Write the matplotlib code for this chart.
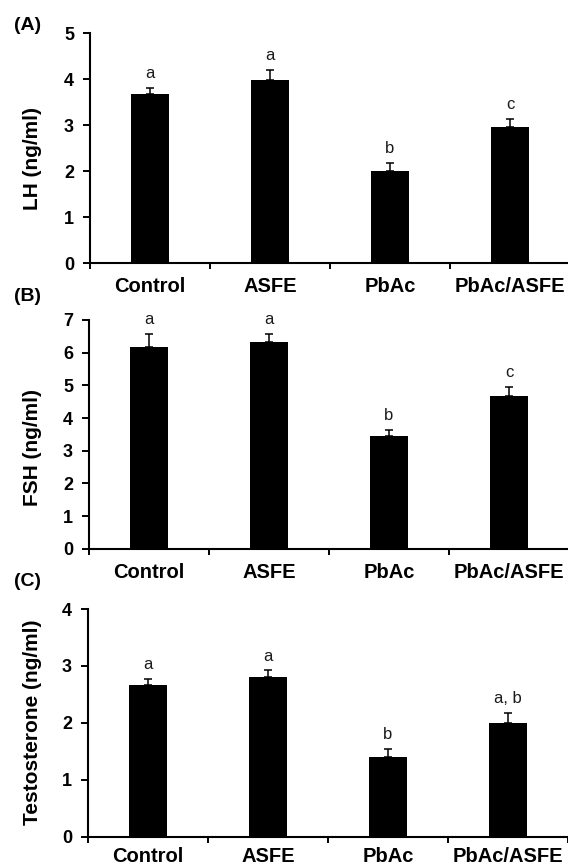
import matplotlib
matplotlib.use("Agg")
import matplotlib.pyplot as plt
import numpy as np

plt.rcParams['font.family'] = ['Liberation Sans', 'DejaVu Sans']

groups = ["Control", "ASFE", "PbAc", "PbAc/ASFE"]

lh_mean = [3.67, 3.97, 2.01, 2.95]
lh_se = [0.14, 0.23, 0.16, 0.19]
lh_sig = ["a", "a", "b", "c"]

fsh_mean = [6.16, 6.33, 3.46, 4.68]
fsh_se = [0.41, 0.24, 0.17, 0.27]
fsh_sig = ["a", "a", "b", "c"]

tst_mean = [2.67, 2.80, 1.40, 1.99]
tst_se = [0.10, 0.12, 0.14, 0.19]
tst_sig = ["a", "a", "b", "a, b"]

W, H = 568, 867
fig = plt.figure(figsize=(W / 100, H / 100), dpi=100)

panels = [
    dict(mean=lh_mean, se=lh_se, sig=lh_sig, ylabel="LH (ng/ml)", ymax=5, tag="(A)",
         left=90, top=33, bottom=263, tag_y=25, ylab_y=159, xpad=10),
    dict(mean=fsh_mean, se=fsh_se, sig=fsh_sig, ylabel="FSH (ng/ml)", ymax=7, tag="(B)",
         left=89, top=320, bottom=548.7, tag_y=297, ylab_y=447, xpad=10),
    dict(mean=tst_mean, se=tst_se, sig=tst_sig, ylabel="Testosterone (ng/ml)", ymax=4, tag="(C)",
         left=88, top=609, bottom=836.7, tag_y=582, ylab_y=722, xpad=7.5),
]

for p in panels:
    ax = fig.add_axes([p["left"] / W, 1 - p["bottom"] / H, 480 / W, (p["bottom"] - p["top"]) / H])
    x = np.arange(len(groups))
    mean = np.array(p["mean"])
    se = np.array(p["se"])
    ax.bar(x, mean, width=0.31, color="black", zorder=2)
    ax.errorbar(x, mean, yerr=[np.zeros_like(se), se], fmt="none", ecolor="black",
                elinewidth=1.1, capsize=3, capthick=1.1, zorder=3)
    for xi, m, s, lab in zip(x, mean, se, p["sig"]):
        ax.annotate(lab, (xi, m + s), xytext=(0, 5), textcoords="offset points",
                    ha="center", va="bottom", fontsize=12, color="#1a1a1a")
    ax.set_xlim(-0.5, 3.5)
    ax.set_ylim(0, p["ymax"])
    ax.set_yticks(np.arange(0, p["ymax"] + 1, 1))
    ax.tick_params(axis="y", direction="out", length=5, width=1.4, pad=6.5, labelsize=13)
    for t in ax.get_yticklabels():
        t.set_fontweight("bold")
    ax.set_xticks([-0.5, 0.5, 1.5, 2.5, 3.5])
    ax.set_xticklabels([])
    ax.set_xticks(x, minor=True)
    ax.set_xticklabels(groups, minor=True, fontsize=14.5, fontweight="bold")
    ax.tick_params(axis="x", which="major", direction="out", length=4, width=1.4)
    ax.tick_params(axis="x", which="minor", length=0, pad=p["xpad"])
    for side in ["top", "right"]:
        ax.spines[side].set_visible(False)
    for side in ["left", "bottom"]:
        ax.spines[side].set_linewidth(1.5)
    fig.text(33 / W, 1 - p["ylab_y"] / H, p["ylabel"], rotation=90, ha="center", va="center",
             fontsize=15, fontweight="bold")
    fig.text(28 / W, 1 - p["tag_y"] / H, p["tag"], ha="center", va="center",
             fontsize=14, fontweight="bold")

fig.savefig("out.png", dpi=100)
